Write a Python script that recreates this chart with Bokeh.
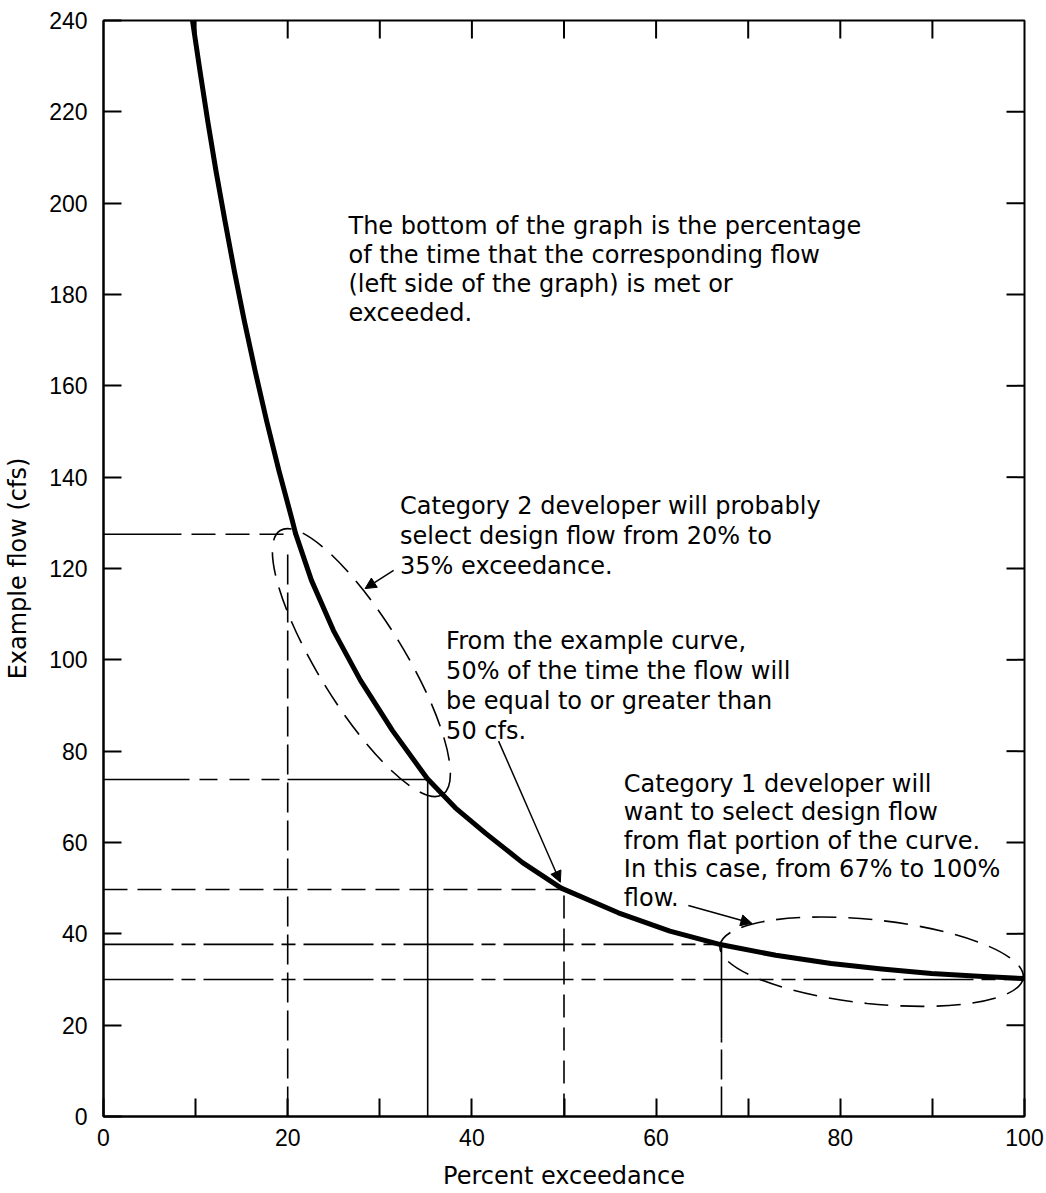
import math
from bokeh.plotting import figure
from bokeh.models import Range1d, FixedTicker, Arrow, NormalHead, ColumnDataSource
from bokeh.core.properties import value
from bokeh.embed import file_html
from bokeh.resources import INLINE

# ---- data ----
exceedance = [9.66, 10.47, 11.31, 12.21, 13.18, 14.20, 15.28, 16.46, 17.70, 19.04, 20.50,
              20.85, 22.58, 24.97, 27.90, 31.38, 35.15, 38.2, 41.5, 45.5, 49.7, 55.9,
              61.5, 67.1, 73.0, 79.0, 84.5, 89.9, 95.0, 100.0]
flow = [240.0, 229.0, 218.1, 207.1, 196.2, 185.2, 174.3, 163.3, 152.4, 141.5, 130.5,
        127.7, 117.4, 106.4, 95.5, 84.5, 74.0, 67.6, 62.0, 55.6, 50.0, 44.6,
        40.6, 37.6, 35.3, 33.5, 32.3, 31.3, 30.7, 30.2]

# design-flow reference points (exceedance %, flow cfs)
ref_exceedance = [20.0, 35.2, 50.0, 67.1, 100.0]
ref_flow = [127.5, 73.8, 49.7, 37.7, 30.0]
ref_curve_x = [20.8, 35.2, 49.7, 67.1, 100.0]   # where each horizontal meets the curve
ref_top_y = [124.0, 73.8, 49.7, 37.6]           # top of each vertical line

x_ticks = [0, 20, 40, 60, 80, 100]
x_minor_ticks = [10, 30, 50, 70, 90]
y_ticks = [0, 20, 40, 60, 80, 100, 120, 140, 160, 180, 200, 220, 240]
top_ticks = [10, 20, 30, 40, 50, 60, 70, 80, 90]
right_ticks = [20, 40, 60, 80, 100, 120, 140, 160, 180, 200, 220]

note1 = ["The bottom of the graph is the percentage",
         "of the time that the corresponding flow",
         "(left side of the graph) is met or",
         "exceeded."]
note2 = ["Category 2 developer will probably",
         "select design flow from 20% to",
         "35% exceedance."]
note3 = ["From the example curve,",
         "50% of the time the flow will",
         "be equal to or greater than",
         "50 cfs."]
note4 = ["Category 1 developer will",
         "want to select design flow",
         "from flat portion of the curve.",
         "In this case, from 67% to 100%",
         "flow."]

TEXT_FONT = "DejaVu Sans"
TICK_FONT = "Liberation Sans"
TICK_LEN = 18

p = figure(frame_width=921, frame_height=1096, width=1044, height=1190,
           x_range=Range1d(0, 100), y_range=Range1d(0, 240),
           output_backend="svg", toolbar_location=None,
           min_border_left=103, min_border_top=20, min_border_right=20, min_border_bottom=0)
p.background_fill_color = "white"
p.border_fill_color = "white"
p.outline_line_color = "black"
p.outline_line_width = 2
p.grid.visible = False

def style_axis(ax):
    ax.axis_line_color = "black"
    ax.axis_line_width = 2
    ax.major_tick_line_color = "black"
    ax.major_tick_line_width = 2
    ax.major_tick_in = TICK_LEN
    ax.major_tick_out = 0
    ax.minor_tick_line_color = "black"
    ax.minor_tick_line_width = 2
    ax.minor_tick_in = TICK_LEN
    ax.minor_tick_out = 0
    ax.major_label_text_font = TICK_FONT
    ax.major_label_text_font_size = "23px"
    ax.major_label_text_color = "black"
    ax.axis_label_text_font = TEXT_FONT
    ax.axis_label_text_font_size = "24px"
    ax.axis_label_text_font_style = "normal"
    ax.axis_label_text_color = "black"

xa = p.xaxis[0]
xa.ticker = FixedTicker(ticks=x_ticks, minor_ticks=x_minor_ticks)
style_axis(xa)
xa.major_label_standoff = 12
xa.axis_label = "Percent exceedance"
xa.axis_label_standoff = 13

ya = p.yaxis[0]
ya.ticker = FixedTicker(ticks=y_ticks, minor_ticks=[])
style_axis(ya)
ya.major_label_standoff = 16
ya.axis_label = "Example flow (cfs)"
ya.axis_label_standoff = 14

# inward ticks on the top and right frame edges
p.ray(x=top_ticks, y=[240] * len(top_ticks), length=TICK_LEN, length_units="screen",
      angle=-math.pi / 2, line_color="black", line_width=2)
p.ray(x=[100] * len(right_ticks), y=right_ticks, length=TICK_LEN, length_units="screen",
      angle=math.pi, line_color="black", line_width=2)

# ---- reference lines ----
LW = 1.6
p.line([0, ref_curve_x[0]], [ref_flow[0], ref_flow[0]], color="black", line_width=LW,
       line_dash="78 10 24 10 24 10 24 10")
p.line([0, ref_exceedance[0]], [ref_flow[1], ref_flow[1]], color="black", line_width=LW,
       line_dash="86 10 18 12 20 12 18 8")
p.line([ref_exceedance[0], ref_curve_x[1]], [ref_flow[1], ref_flow[1]], color="black", line_width=LW)
p.line([0, ref_curve_x[2]], [ref_flow[2], ref_flow[2]], color="black", line_width=LW,
       line_dash="24 10")
p.line([0, ref_curve_x[3]], [ref_flow[3], ref_flow[3]], color="black", line_width=LW,
       line_dash="70 8 14 8")
p.line([0, ref_curve_x[4]], [ref_flow[4], ref_flow[4]], color="black", line_width=LW,
       line_dash="70 8 14 8")
p.line([ref_exceedance[0], ref_exceedance[0]], [0, ref_top_y[0]], color="black", line_width=LW,
       line_dash="30 8")
p.line([ref_exceedance[1], ref_exceedance[1]], [0, ref_top_y[1]], color="black", line_width=LW)
p.line([ref_exceedance[2], ref_exceedance[2]], [0, ref_top_y[2]], color="black", line_width=LW,
       line_dash="23 10")
p.line([ref_exceedance[3], ref_exceedance[3]], [17, ref_top_y[3]], color="black", line_width=LW)
p.line([ref_exceedance[3], ref_exceedance[3]], [0, 17], color="black", line_width=LW,
       line_dash="30 7")

# ---- the flow-duration curve ----
p.line(exceedance, flow, color="black", line_width=5, line_join="round", line_cap="round")

# ---- dashed ellipses ----
p.ellipse(x=[28.0], y=[99.4], width=[310], height=[86], angle=[-1.02],
          width_units="screen", height_units="screen",
          fill_color=None, line_color="black", line_width=1.6, line_dash="24 12")
p.ellipse(x=[83.4], y=[33.9], width=[305], height=[84], angle=[-0.105],
          width_units="screen", height_units="screen",
          fill_color=None, line_color="black", line_width=1.6, line_dash="24 12")

# ---- arrows ----
for xs, ys, xe, ye in [(31.5, 119.6, 28.4, 115.6),
                       (42.9, 82.2, 49.6, 51.3),
                       (63.5, 46.2, 70.4, 42.3)]:
    p.add_layout(Arrow(end=NormalHead(size=11, fill_color="black", line_color="black"),
                       x_start=xs, y_start=ys, x_end=xe, y_end=ye,
                       line_color="black", line_width=1.5))

# ---- notes ----
def note(lines, x0, y0, spacing):
    src = ColumnDataSource(dict(x=[x0] * len(lines), y=[y0] * len(lines), text=lines,
                                yo=[i * spacing for i in range(len(lines))]))
    p.text(x="x", y="y", text="text", y_offset="yo", source=src,
           text_font=value(TEXT_FONT), text_font_size="24px", text_color="black",
           text_align="left", text_baseline="alphabetic")

note(note1, 26.6, 195.1, 29.3)
note(note2, 32.2, 133.6, 30.0)
note(note3, 37.2, 104.2, 30.0)
note(note4, 56.5, 72.9, 28.5)

open("out.html", "w").write(file_html(p, INLINE))
